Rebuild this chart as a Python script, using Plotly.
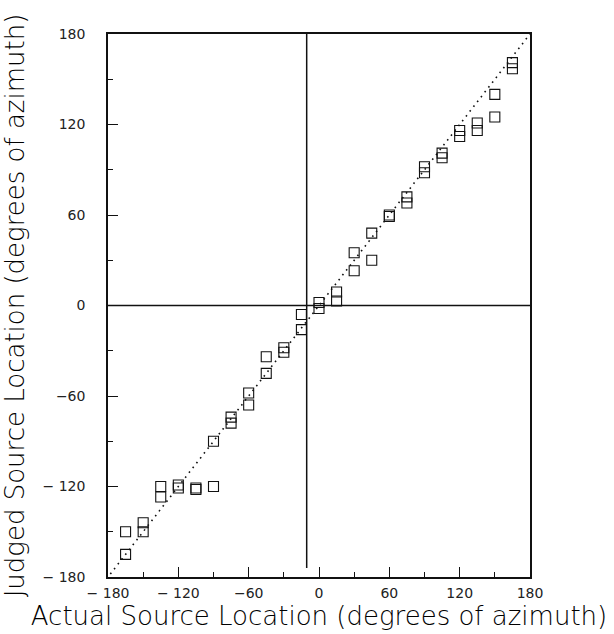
import plotly.graph_objects as go

# Actual source azimuths (two judgments per location)
actual = [-165, -165, -150, -150, -135, -135, -120, -120, -105, -105, -90, -90,
          -75, -75, -60, -60, -45, -45, -30, -30, -15, -15, 0, 0, 15, 15, 30, 30,
          45, 45, 60, 60, 75, 75, 90, 90, 105, 105, 120, 120, 135, 135, 150, 150,
          165, 165]
judged = [-165, -150, -144, -150, -120, -127, -119, -121, -122, -121, -120, -90,
          -74, -78, -58, -66, -34, -45, -28, -31, -6, -16, 2, -2, 9, 3, 23, 35,
          30, 48, 59, 60, 68, 72, 88, 92, 101, 98, 116, 112, 121, 116, 140, 125,
          161, 157]

diag_x = [-178, 180]
diag_y = [-178, 180]
vline_x = -10.5
vline_y = [-174, 180]
hline_x = [-180, 180]
hline_y = 0

tickvals = [-180, -120, -60, 0, 60, 120, 180]
xticktext = ["\u2212 180", "\u2212 120", "\u221260", "0", "60", "120", "180"]
yticktext = ["\u2212 180", "\u2212 120", "\u221260", "0", "60", "120", "180"]

FONT = "DejaVu Sans"
INK = "#111111"

fig = go.Figure()
fig.add_trace(go.Scatter(x=diag_x, y=diag_y, mode="lines",
                         line=dict(color=INK, width=1.6, dash="1.6px,4.5px"),
                         hoverinfo="skip", showlegend=False))
fig.add_trace(go.Scatter(x=[vline_x, vline_x], y=vline_y, mode="lines",
                         line=dict(color=INK, width=1.5), showlegend=False))
fig.add_trace(go.Scatter(x=hline_x, y=[hline_y, hline_y], mode="lines",
                         line=dict(color=INK, width=1.5), showlegend=False))
fig.add_trace(go.Scatter(x=actual, y=judged, mode="markers",
                         marker=dict(symbol="square-open", size=10,
                                     color=INK, line=dict(width=1.1, color=INK)),
                         showlegend=False))

axis_common = dict(
    range=[-180, 180], tickvals=tickvals, showgrid=False, zeroline=False,
    showline=True, linecolor=INK, linewidth=1.5, mirror=True,
    ticks="inside", ticklen=10, tickwidth=1.2, tickcolor=INK,
    minor=dict(ticks="inside", ticklen=5, tickwidth=1.2, tickcolor=INK,
               dtick=30, tick0=0, showgrid=False),
    tickfont=dict(family=FONT, size=14, color="#222222"),
)

fig.update_layout(
    width=614, height=634,
    margin=dict(l=105, r=84, t=34, b=57),
    paper_bgcolor="white", plot_bgcolor="white",
    xaxis=dict(**axis_common, ticktext=xticktext, ticklabelstandoff=2,
               title=dict(text="Actual Source Location (degrees of azimuth)",
                          font=dict(family=FONT, size=26, color="#000000", weight=300),
                          standoff=2)),
    yaxis=dict(**axis_common, ticktext=yticktext, ticklabelstandoff=18,
               title=dict(text="Judged Source Location (degrees of azimuth)",
                          font=dict(family=FONT, size=26, color="#000000", weight=300),
                          standoff=12)),
)

fig.write_html("out.html")
